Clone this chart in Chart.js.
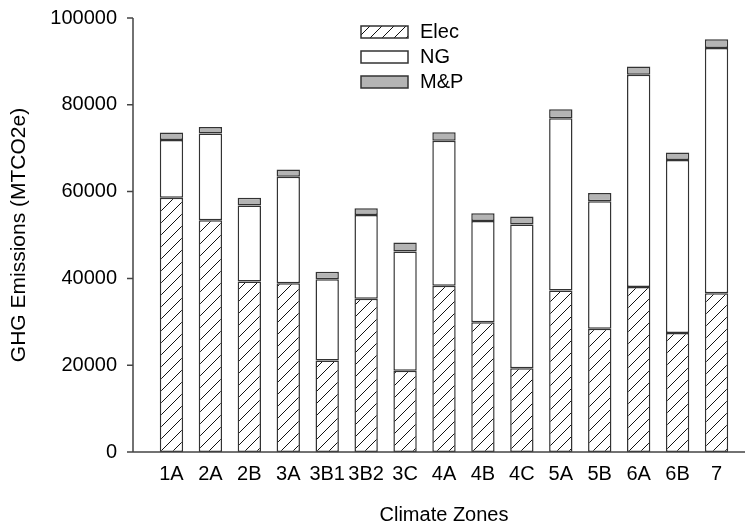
<!DOCTYPE html>
<html>
<head>
<meta charset="utf-8">
<script src="https://cdn.jsdelivr.net/npm/chart.js@4/dist/chart.umd.min.js"></script>
<style>
  html, body { margin: 0; padding: 0; background: #fff; }
</style>
</head>
<body>
<canvas id="ghg" width="746" height="525"></canvas>
<script>
var zones = ['1A', '2A', '2B', '3A', '3B1', '3B2', '3C', '4A', '4B', '4C', '5A', '5B', '6A', '6B', '7'];
var elec = [58600, 53400, 39300, 38900, 21100, 35300, 18700, 38300, 29900, 19300, 37200, 28400, 38000, 27400, 36600];
var ng = [13300, 20000, 17500, 24500, 18700, 19300, 27500, 33400, 23300, 33100, 39700, 29400, 48900, 39900, 56500];
var mp = [1700, 1500, 1800, 1700, 1750, 1550, 2100, 2000, 1800, 1850, 2100, 1900, 1900, 1700, 2000];
var yTicks = [0, 20000, 40000, 60000, 80000, 100000];

var FONT = "'Liberation Sans', Arial, sans-serif";
var ctx = document.getElementById('ghg').getContext('2d');

// diagonal hatch for Elec
function makeHatch() {
  var c = document.createElement('canvas');
  c.width = 12; c.height = 12;
  var g = c.getContext('2d');
  g.fillStyle = '#fff';
  g.fillRect(0, 0, 12, 12);
  g.strokeStyle = '#111';
  g.lineWidth = 1;
  g.beginPath();
  g.moveTo(-1, 13); g.lineTo(13, -1);
  g.moveTo(-1, 1); g.lineTo(1, -1);
  g.moveTo(11, 13); g.lineTo(13, 11);
  g.stroke();
  return ctx.createPattern(c, 'repeat');
}
var hatch = makeHatch();

// axis lines sit left of the first category, drawn by hand
var axesPlugin = {
  id: 'axes',
  afterDraw: function(chart) {
    var c = chart.ctx, a = chart.chartArea, y = chart.scales.y;
    var ax = a.left - 19;
    var base = y.getPixelForValue(0);
    c.save();
    c.strokeStyle = '#444';
    c.lineWidth = 1.5;
    c.beginPath();
    c.moveTo(ax, y.getPixelForValue(yTicks[yTicks.length - 1]));
    c.lineTo(ax, base);
    c.lineTo(chart.width - 1, base);
    y.ticks.forEach(function(t) {
      var p = y.getPixelForValue(t.value);
      c.moveTo(ax - 6, p);
      c.lineTo(ax, p);
    });
    c.stroke();
    c.restore();
  }
};

// legend inside plot, top middle
var legendPlugin = {
  id: 'boxLegend',
  afterDraw: function(chart) {
    var c = chart.ctx;
    var x0 = chart.chartArea.left + 209;
    var top = 26;
    c.save();
    c.font = '20px ' + FONT;
    c.textBaseline = 'middle';
    chart.data.datasets.forEach(function(ds, i) {
      var yy = top + i * 25;
      c.fillStyle = ds.backgroundColor;
      c.fillRect(x0, yy, 47, 12);
      c.strokeStyle = '#333';
      c.lineWidth = 1.5;
      c.strokeRect(x0, yy, 47, 12);
      c.fillStyle = '#000';
      c.fillText(ds.label, x0 + 59, yy + 6);
    });
    c.restore();
  }
};

new Chart(ctx, {
  type: 'bar',
  data: {
    labels: zones,
    datasets: [
      { label: 'Elec', data: elec, backgroundColor: hatch },
      { label: 'NG', data: ng, backgroundColor: '#ffffff' },
      { label: 'M&P', data: mp, backgroundColor: '#b4b4b4' }
    ]
  },
  options: {
    responsive: false,
    animation: false,
    devicePixelRatio: 1,
    layout: { padding: { top: 18, right: 10, bottom: 0, left: 0 } },
    datasets: {
      bar: {
        borderColor: '#333',
        borderWidth: 1.5,
        borderSkipped: false,
        barPercentage: 0.6,
        categoryPercentage: 1.0
      }
    },
    plugins: {
      legend: { display: false },
      tooltip: { enabled: false }
    },
    scales: {
      x: {
        stacked: true,
        grid: { display: false, drawTicks: false },
        border: { display: false },
        ticks: { font: { family: FONT, size: 20 }, color: '#000', padding: 10, maxRotation: 0, autoSkip: false },
        title: { display: true, text: 'Climate Zones', color: '#000', font: { family: FONT, size: 20, lineHeight: 1 }, padding: 0 },
        afterFit: function(s) { s.height = 73; }
      },
      y: {
        stacked: true,
        min: 0,
        max: 100000,
        // tick gap made with tickLength so it does not pad the top
        grid: { display: false, drawTicks: true, tickLength: 35 },
        border: { display: false },
        ticks: {
          font: { family: FONT, size: 20 },
          color: '#000',
          padding: 0,
          callback: function(v) { return String(v); }
        },
        afterBuildTicks: function(s) {
          s.ticks = yTicks.map(function(v) { return { value: v }; });
        },
        title: { display: true, text: 'GHG Emissions (MTCO2e)', color: '#000', font: { family: FONT, size: 21, lineHeight: 1 }, padding: { top: 9, bottom: 0 } },
        afterFit: function(s) { s.width = 152; }
      }
    }
  },
  plugins: [axesPlugin, legendPlugin]
});
</script>
</body>
</html>
